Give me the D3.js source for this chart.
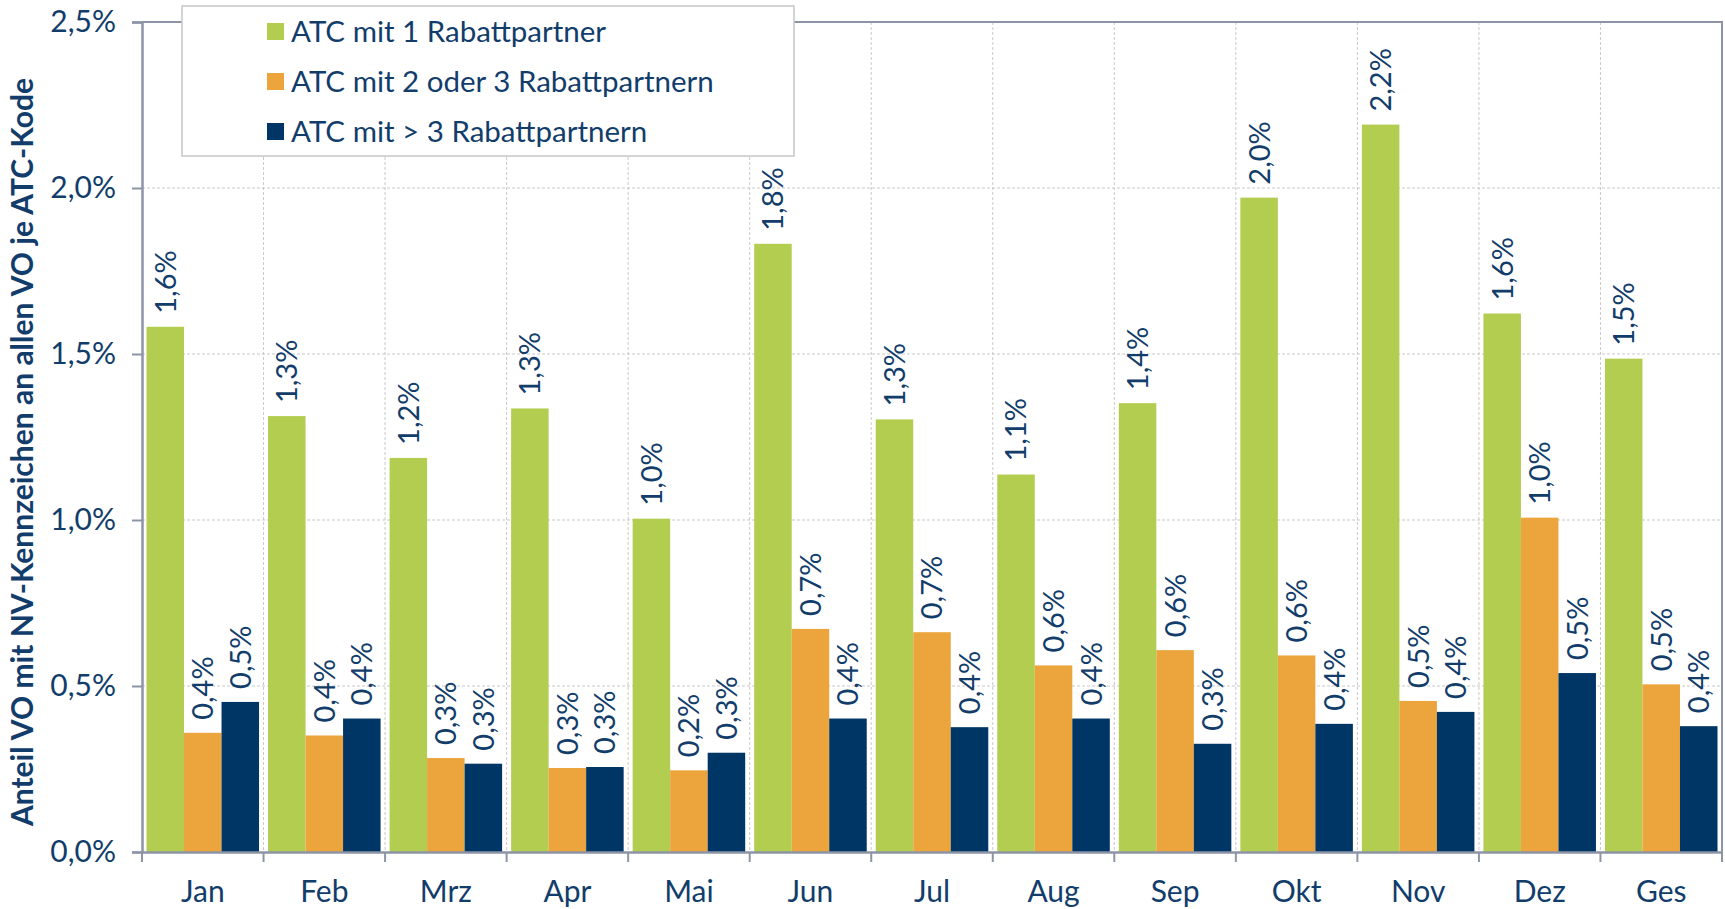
<!DOCTYPE html>
<html>
  <head>
    <meta charset="utf-8">
    <style>
      body { margin: 0; background: #fff; }
      text { font-family: Lato, "Open Sans", sans-serif; fill: #123d6b; }
    </style>
  </head>
  <body>
    <div id="my_dataviz"></div>
  </body>
</html>

<script src="https://d3js.org/d3.v7.min.js"></script>

<script>

// data
var months = ["Jan", "Feb", "Mrz", "Apr", "Mai", "Jun", "Jul", "Aug", "Sep", "Okt", "Nov", "Dez", "Ges"];
var seriesNames = ["ATC mit 1 Rabattpartner", "ATC mit 2 oder 3 Rabattpartnern", "ATC mit > 3 Rabattpartnern"];
var eins   = [1.582, 1.313, 1.187, 1.336, 1.004, 1.832, 1.303, 1.137, 1.352, 1.971, 2.191, 1.622, 1.486];
var zweiDrei = [0.359, 0.351, 0.283, 0.253, 0.246, 0.672, 0.662, 0.562, 0.608, 0.592, 0.455, 1.007, 0.505];
var mehrDrei = [0.452, 0.402, 0.266, 0.256, 0.299, 0.402, 0.376, 0.402, 0.326, 0.386, 0.422, 0.539, 0.379];
var yTicks = [0, 0.5, 1.0, 1.5, 2.0, 2.5];
var colors = ["#b3cd51", "#eca53c", "#003665"];

var series = [eins, zweiDrei, mehrDrei];

// set the dimensions and margins of the graph
var margin = {top: 22, right: 3, bottom: 57, left: 142},
    width = 1725 - margin.left - margin.right,
    height = 909 - margin.top - margin.bottom;

var svg = d3.select("#my_dataviz")
  .append("svg")
    .attr("width", 1725)
    .attr("height", 909)
  .append("g")
    .attr("transform", "translate(" + margin.left + "," + margin.top + ")");

var fmt = function(v) { return d3.format(".1f")(v).replace(".", ",") + "%"; };

// scales
var x0 = d3.scaleBand()
  .domain(months)
  .range([0, width])
  .padding(0);

var x1 = d3.scaleBand()
  .domain([0, 1, 2])
  .range([4.5, x0.bandwidth() - 4.5])
  .padding(0);

var y = d3.scaleLinear()
  .domain([0, 2.5])
  .range([height, 0]);

// gridlines
svg.append("g")
  .selectAll("line")
  .data(yTicks.slice(1, -1))
  .enter()
  .append("line")
    .attr("x1", 0)
    .attr("x2", width)
    .attr("y1", function(d) { return y(d); })
    .attr("y2", function(d) { return y(d); })
    .attr("stroke", "#c9c9c9")
    .attr("stroke-dasharray", "3,2");

svg.append("g")
  .selectAll("line")
  .data(months.slice(1))
  .enter()
  .append("line")
    .attr("x1", function(d) { return x0(d); })
    .attr("x2", function(d) { return x0(d); })
    .attr("y1", 0)
    .attr("y2", height)
    .attr("stroke", "#c9c9c9")
    .attr("stroke-dasharray", "3,2");

// plot border top/right
svg.append("path")
  .attr("d", "M0,0H" + width + "V" + height)
  .attr("fill", "none")
  .attr("stroke", "#8d94a6")
  .attr("stroke-width", 2);

// bars
var groups = svg.selectAll(".grp")
  .data(months)
  .enter()
  .append("g")
    .attr("transform", function(d) { return "translate(" + x0(d) + ",0)"; });

groups.selectAll("rect")
  .data(function(d, i) { return series.map(function(s, k) { return {k: k, v: s[i]}; }); })
  .enter()
  .append("rect")
    .attr("x", function(d) { return x1(d.k); })
    .attr("y", function(d) { return y(d.v); })
    .attr("width", x1.bandwidth())
    .attr("height", function(d) { return height - y(d.v); })
    .attr("fill", function(d) { return colors[d.k]; });

// value labels
groups.selectAll(".lbl")
  .data(function(d, i) { return series.map(function(s, k) { return {k: k, v: s[i]}; }); })
  .enter()
  .append("text")
    .attr("transform", function(d) {
      return "translate(" + (x1(d.k) + x1.bandwidth() / 2) + "," + (y(d.v) - 13) + ")rotate(-90)";
    })
    .attr("dy", "0.36em")
    .style("font-size", "29px")
    .text(function(d) { return fmt(d.v); });

// Y axis
var yAxis = svg.append("g")
  .call(d3.axisLeft(y).tickValues(yTicks).tickSize(10).tickPadding(16).tickFormat(function(d) { return d3.format(".1f")(d).replace(".", ",") + "%"; }));
yAxis.select(".domain").attr("stroke", "#8d94a6").attr("stroke-width", 2.5);
yAxis.selectAll(".tick line").attr("stroke", "#8d94a6").attr("stroke-width", 2);
yAxis.selectAll("text").style("font-size", "30px").attr("fill", "#123d6b");

// X axis
var xAxis = svg.append("g")
  .attr("transform", "translate(0," + height + ")")
  .call(d3.axisBottom(x0).tickSize(0).tickPadding(29));
xAxis.select(".domain").attr("stroke", "#8d94a6").attr("stroke-width", 2.5);
xAxis.selectAll("text").style("font-size", "30px").attr("fill", "#123d6b");

xAxis.selectAll(".sep")
  .data(months.concat(["end"]))
  .enter()
  .append("line")
    .attr("x1", function(d, i) { return i * x0.bandwidth(); })
    .attr("x2", function(d, i) { return i * x0.bandwidth(); })
    .attr("y1", 0)
    .attr("y2", 10)
    .attr("stroke", "#8d94a6")
    .attr("stroke-width", 2);

// Y label
svg.append("text")
  .attr("transform", "translate(" + (-margin.left + 33) + "," + (height / 2 + 15) + ")rotate(-90)")
  .attr("text-anchor", "middle")
  .style("font-size", "30px")
  .style("font-weight", "bold")
  .text("Anteil VO mit NV-Kennzeichen an allen VO je ATC-Kode");

// legend
var legend = svg.append("g")
  .attr("transform", "translate(" + (182 - margin.left) + "," + (6 - margin.top) + ")");

legend.append("rect")
  .attr("width", 612)
  .attr("height", 150)
  .attr("fill", "#fff")
  .attr("stroke", "#c6c6c6")
  .attr("stroke-width", 1.5);

legend.selectAll(".sw")
  .data(seriesNames)
  .enter()
  .append("rect")
    .attr("x", 85)
    .attr("y", function(d, i) { return 17 + i * 50; })
    .attr("width", 17)
    .attr("height", 17)
    .attr("fill", function(d, i) { return colors[i]; });

legend.selectAll(".lt")
  .data(seriesNames)
  .enter()
  .append("text")
    .attr("x", 109)
    .attr("y", function(d, i) { return 26 + i * 50; })
    .attr("dy", "0.35em")
    .style("font-size", "29.5px")
    .text(function(d) { return d; });

</script>
